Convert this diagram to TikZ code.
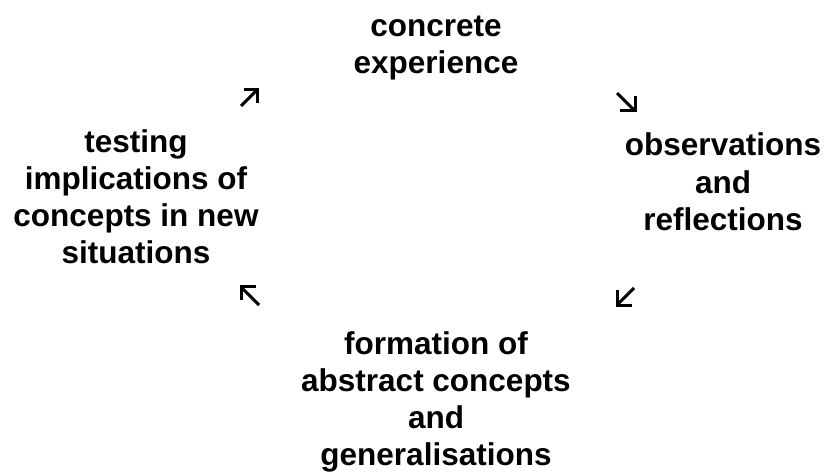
\documentclass[tikz,border=0pt]{standalone}
\usepackage{fontspec}
\setmainfont{Liberation Sans}
\begin{document}
\begin{tikzpicture}[x=1pt,y=-1pt,
  stage/.style={align=center,inner sep=0pt,anchor=base,
    font=\fontsize{31.5}{37}\selectfont\bfseries},
  cornerarrow/.style={line width=3.1pt,line cap=butt,miter limit=10}]
\useasboundingbox[fill=white] (0,0) rectangle (827,473);
% base anchor = baseline of the last line
\node[stage] (ce) at (436,74) {concrete\\experience};
\node[stage] (or) at (723,230) {observations\\and\\reflections};
\node[stage] (ac) at (436,465) {formation of\\abstract concepts\\and\\generalisations};
\node[stage] (te) at (136,263) {testing\\implications of\\concepts in new\\situations};
% arrow glyphs
\draw[cornerarrow] (241,106) -- (257,90);
\draw[cornerarrow] (243.5,89.5) -- (257.5,89.5) -- (257.5,103);
\draw[cornerarrow] (617,93) -- (634,110);
\draw[cornerarrow] (620,110.5) -- (635.5,110.5) -- (635.5,96);
\draw[cornerarrow] (634,288) -- (618,304);
\draw[cornerarrow] (617.5,290) -- (617.5,305.5) -- (632,305.5);
\draw[cornerarrow] (259,305) -- (242,288);
\draw[cornerarrow] (241.5,300) -- (241.5,286.5) -- (256,286.5);
\end{tikzpicture}
\end{document}
